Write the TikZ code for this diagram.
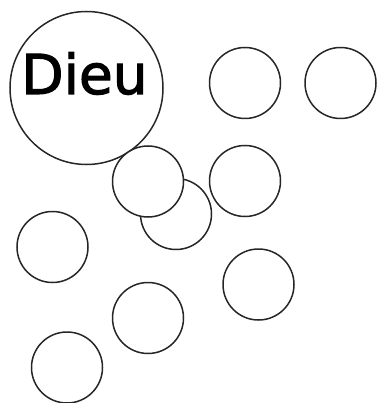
\documentclass[tikz,border=0pt]{standalone}
\usepackage{fontspec}
\newfontfamily\dieufont[FakeBold=2]{DejaVu Sans}
\begin{document}
\begin{tikzpicture}[x=1pt,y=-1pt,
  ring/.style={draw=black!85,line width=1.5pt,fill=white,circle,inner sep=0pt,minimum size=71pt},
  bigring/.style={draw=black!85,line width=1.5pt,circle,inner sep=0pt,minimum size=153pt}]
\useasboundingbox (0,0) rectangle (376,403);
\node[bigring] (big) at (86.5,88) {};
\node[anchor=base,font=\dieufont\fontsize{55}{60}\selectfont,inner sep=0pt] (dieu) at (84.5,94) {Dieu};
\node[ring] (c2) at (245,83) {};
\node[ring] (c3) at (340.5,83) {};
\node[ring] (c5) at (176,214) {};
\node[ring] (c4) at (148,181.5) {};
\node[ring] (c6) at (245,181) {};
\node[ring] (c7) at (52.5,247) {};
\node[ring] (c8) at (258.5,284.5) {};
\node[ring] (c9) at (148,318) {};
\node[ring] (c10) at (67,367.5) {};
\end{tikzpicture}
\end{document}
